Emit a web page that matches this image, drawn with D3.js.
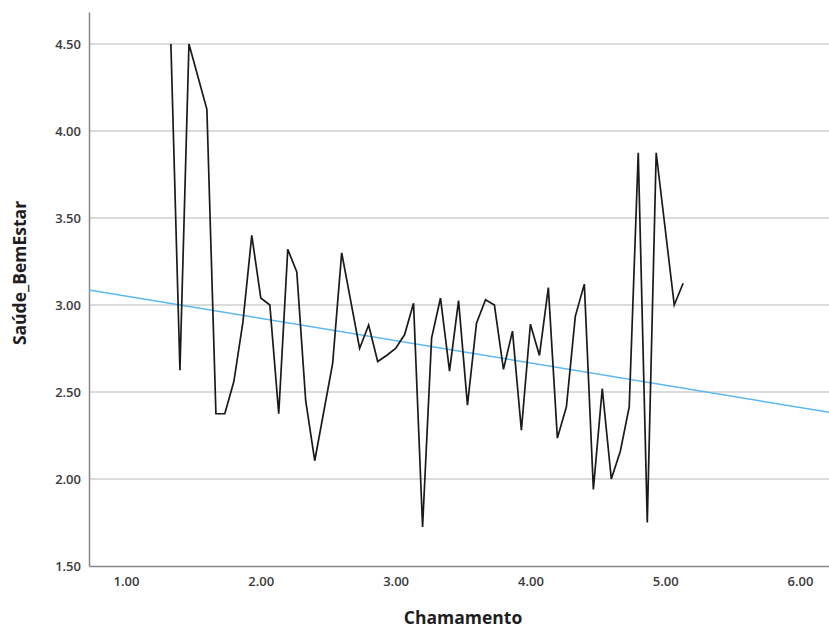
<!DOCTYPE html>
<html>
<head>
<meta charset="utf-8">
<script src="https://cdn.jsdelivr.net/npm/d3@7"></script>
<style>
  body { margin: 0; background: #fff; }
  text { font-family: "Open Sans", "DejaVu Sans", sans-serif; }
  .tick text { fill: #3a3a3a; font-size: 13px; font-weight: 600; }
  .label { font-weight: bold; font-size: 17.5px; fill: #1e1e1e; }
</style>
</head>
<body>
<div id="container"></div>
<script>
// Chamamento values (x) and mean Saúde_BemEstar (y)
var chamamento = [1.333, 1.400, 1.467, 1.600, 1.667, 1.733, 1.800, 1.867, 1.933, 2.000,
                  2.067, 2.133, 2.200, 2.267, 2.333, 2.400, 2.533, 2.600, 2.733, 2.800,
                  2.867, 2.933, 3.000, 3.067, 3.133, 3.200, 3.267, 3.333, 3.400, 3.467,
                  3.533, 3.600, 3.667, 3.733, 3.800, 3.867, 3.933, 4.000, 4.067, 4.133,
                  4.200, 4.267, 4.333, 4.400, 4.467, 4.533, 4.600, 4.667, 4.733, 4.800,
                  4.867, 4.933, 5.067, 5.133];
var saude = [4.50, 2.625, 4.50, 4.125, 2.375, 2.375, 2.56, 2.90, 3.40, 3.04,
             3.00, 2.375, 3.32, 3.19, 2.45, 2.105, 2.665, 3.30, 2.75, 2.885,
             2.675, 2.71, 2.75, 2.83, 3.01, 1.725, 2.81, 3.04, 2.62, 3.025,
             2.425, 2.895, 3.03, 3.00, 2.63, 2.85, 2.28, 2.89, 2.71, 3.10,
             2.235, 2.415, 2.935, 3.12, 1.94, 2.52, 2.00, 2.16, 2.415, 3.875,
             1.75, 3.875, 3.00, 3.125];

// Linear fit line: y = intercept + slope * x
var fitIntercept = 3.179;
var fitSlope = -0.128;

var xTicks = [1, 2, 3, 4, 5, 6];
var yTicks = [1.5, 2.0, 2.5, 3.0, 3.5, 4.0, 4.5];

var width = 829;
var height = 631;
var margin = {left: 89, top: 12, bottom: 65, right: 0};

var svg = d3.select("#container")
            .append("svg")
            .attr("width", width)
            .attr("height", height)

var xScale = d3.scaleLinear()
               .domain([0.7255, 6.215])
               .range([margin.left, width - margin.right])

var yScale = d3.scaleLinear()
               .domain([1.5, 4.684])
               .range([height - margin.bottom, margin.top])

// Horizontal gridlines
svg.append("g").selectAll("line")
   .data(yTicks.filter((d) => d > 1.5))
   .enter()
   .append("line")
   .attr("x1", margin.left)
   .attr("x2", width - margin.right)
   .attr("y1", (d) => yScale(d))
   .attr("y2", (d) => yScale(d))
   .attr("stroke", "#cfcfcf")
   .attr("stroke-width", 1.5)

// Axes
var xAxis = d3.axisBottom(xScale).tickValues(xTicks).tickSize(0).tickPadding(9)
              .tickFormat(d3.format(".2f"));
var yAxis = d3.axisLeft(yScale).tickValues(yTicks).tickSize(0).tickPadding(8)
              .tickFormat(d3.format(".2f"));

var gx = svg.append("g")
   .attr("transform", "translate(0," + (height - margin.bottom) + ")")
   .call(xAxis)
gx.select(".domain").attr("stroke", "#888").attr("stroke-width", 1.5)
gx.selectAll(".tick text").attr("dy", "0.85em")

var gy = svg.append("g")
   .attr("transform", "translate(" + margin.left + ",0)")
   .call(yAxis)
gy.select(".domain").attr("stroke", "#888").attr("stroke-width", 1.5)

// Fit line across the full x range
var xd = xScale.domain();
svg.append("line")
   .attr("x1", xScale(xd[0]))
   .attr("x2", xScale(xd[1]))
   .attr("y1", yScale(fitIntercept + fitSlope * xd[0]))
   .attr("y2", yScale(fitIntercept + fitSlope * xd[1]))
   .attr("stroke", "#5ab8f2")
   .attr("stroke-width", 1.5)

// Data line
var line = d3.line()
             .x((d, i) => xScale(chamamento[i]))
             .y((d) => yScale(d))

svg.append("path")
   .datum(saude)
   .attr("d", line)
   .attr("fill", "none")
   .attr("stroke", "#1a1a1a")
   .attr("stroke-width", 1.7)
   .attr("stroke-linejoin", "miter")

// Axis titles
svg.append("text")
   .attr("class", "label")
   .attr("x", 463)
   .attr("y", 624)
   .attr("text-anchor", "middle")
   .text("Chamamento");

svg.append("text")
   .attr("class", "label")
   .attr("transform", "translate(26," + 273 + ") rotate(-90)")
   .attr("text-anchor", "middle")
   .text("Saúde_BemEstar");
</script>
</body>
</html>
